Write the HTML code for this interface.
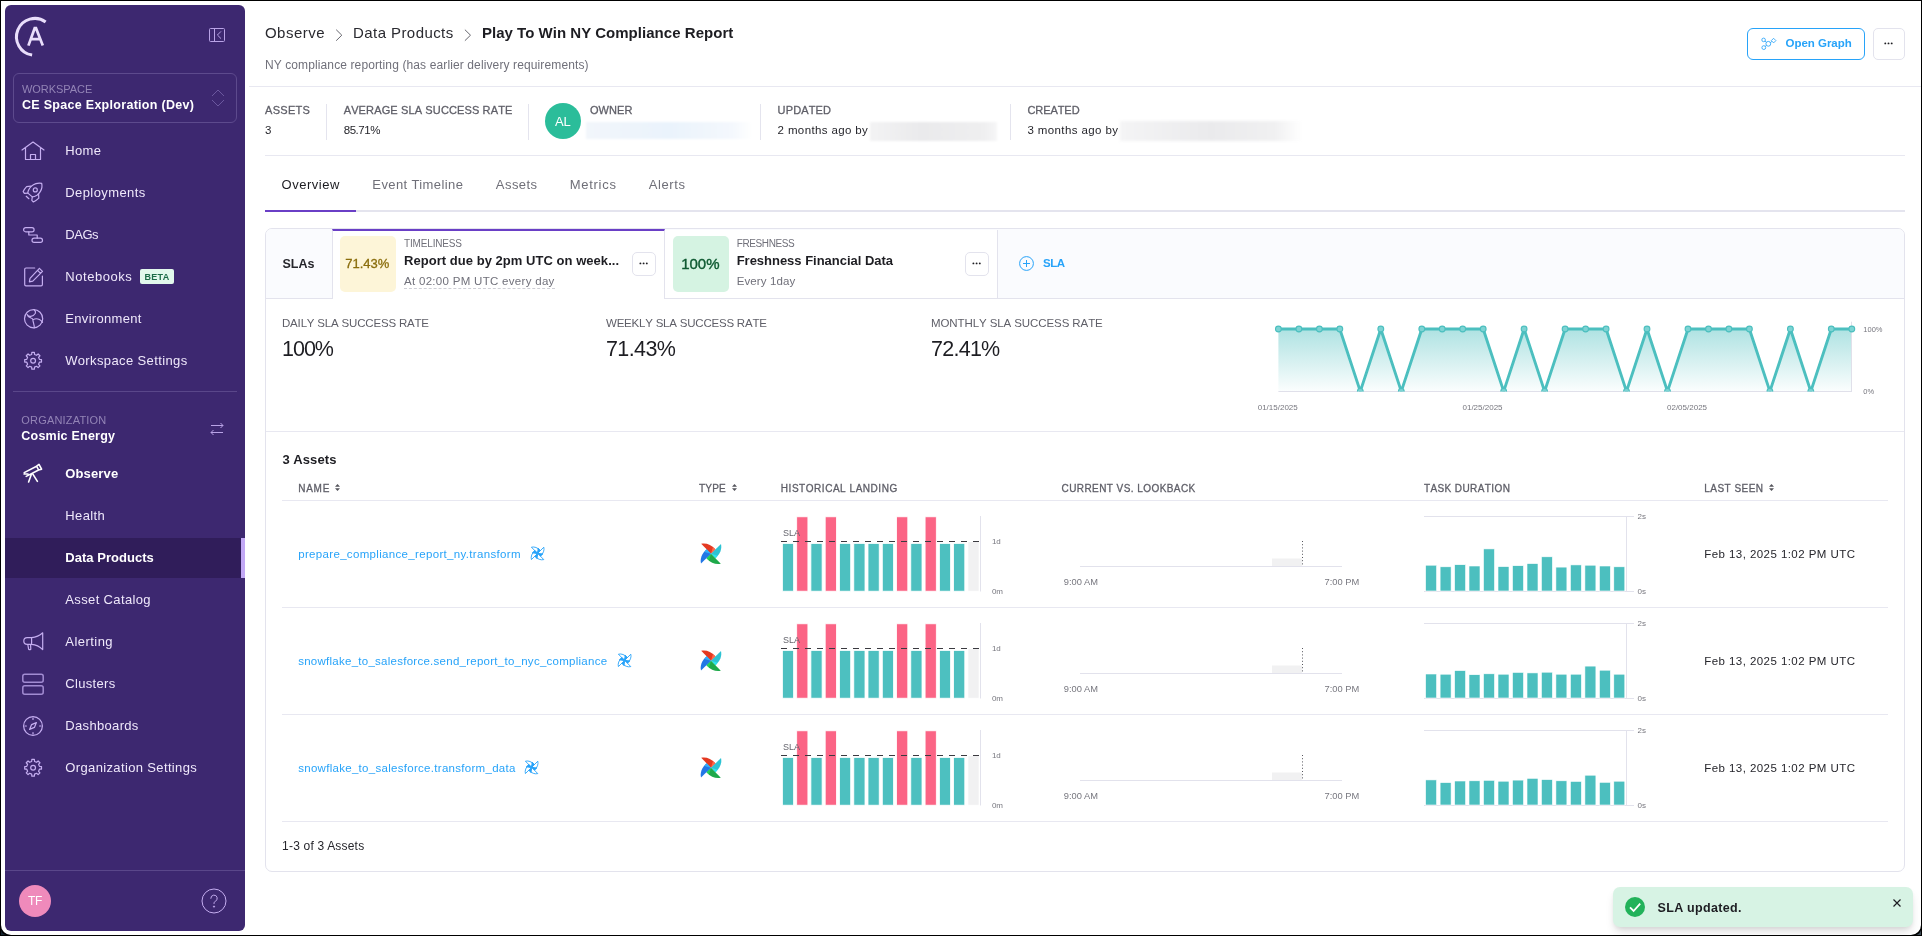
<!DOCTYPE html>
<html><head><meta charset="utf-8"><title>Data Product</title>
<style>
*{box-sizing:border-box;margin:0;padding:0}
html,body{width:1922px;height:936px;overflow:hidden;background:#fff}
body{font-family:"Liberation Sans",sans-serif;color:#1d1d22;position:relative}
#pg{position:absolute;left:0;top:0;width:1922px;height:936px;overflow:hidden;background:#fff;transform:translateZ(0);will-change:transform}
#frame{position:absolute;left:1px;top:1px;width:1920px;height:934px;border-radius:0 0 10px 10px;box-shadow:0 0 0 12px #000;pointer-events:none;z-index:50}
.a{position:absolute;white-space:nowrap;line-height:1}
.b{font-weight:bold}
#sb{position:absolute;left:5px;top:5px;width:240px;height:926px;background:#3d2870;border-radius:6px}
.nav{color:#efe8fb}
.ico{position:absolute;fill:none;stroke:#c5aef0;stroke-width:1.2;stroke-linecap:round;stroke-linejoin:round;overflow:visible}
.lbl{color:#5f5f68;-webkit-text-stroke:.3px #5f5f68;font-kerning:none}
.lb2{color:#5f5f68;font-kerning:none}
.val{color:#26262c}
.vs{position:absolute;width:1px;background:#e4e4ee}
.hl{position:absolute;height:1px;background:#e8e8f1}
.th{color:#5f5f68;-webkit-text-stroke:.3px #5f5f68;font-kerning:none}
.lnk{color:#27a3f9}
.tab{color:#6f6f78}
.big{color:#1d1d22}
.ax{color:#77777f}
.g{color:#70707a}
.dots{position:absolute;border:1px solid #e3e3ed;border-radius:5px;background:#fff}
.dots i{position:absolute;width:1.9px;height:1.9px;background:#222;border-radius:50%;top:50%;margin-top:-1.6px}
</style></head><body>
<div id="pg">
<div id="sb"></div>
<svg class="a" style="left:10px;top:12px" width="50" height="50" viewBox="0 0 50 50" fill="none" stroke="#e9defb" stroke-width="3"><path d="M35.66 9.93 A18.4 18.4 0 1 0 22.12 43.04"/><path d="M18.4 33.6 L24.7 16.2 H26 L32.8 33.6 M21 27.2 H30.4" stroke-width="2.7" stroke-linejoin="miter"/></svg>
<svg class="a" style="left:209px;top:28px" width="16" height="14" viewBox="0 0 16 14" fill="none" stroke="#b9a3e6" stroke-width="1"><rect x=".5" y=".5" width="15" height="13" rx="1"/><path d="M5.5 .5V13.5M12 3.4L8.4 7L12 10.6"/></svg>
<div class="a" style="left:13px;top:73px;width:224px;height:50px;border:1px solid #5d4a8d;border-radius:6px"></div>
<div class="a" id="t_ws" style="left:22px;top:84px;font-size:11px;color:#9384b6;letter-spacing:-0.05px;">WORKSPACE</div>
<div class="a b" id="t_wsn" style="left:22px;top:99px;font-size:12.5px;color:#fff;letter-spacing:0.29px;">CE Space Exploration (Dev)</div>
<svg class="a" style="left:211px;top:89px" width="14" height="18" viewBox="0 0 14 18" fill="none" stroke="#6b589f" stroke-width="1"><path d="M1 7L7 1L13 7M1 11L7 17L13 11"/></svg>
<div class="a" style="left:5px;top:538px;width:240px;height:40px;background:#301d5a"></div><div class="a" style="left:241px;top:538px;width:4px;height:40px;background:#c2a8f5"></div>
<div class="a nav" id="n0" style="left:65.3px;top:144px;font-size:13px;letter-spacing:0.3px;">Home</div>
<div class="a nav" id="n1" style="left:65.3px;top:186px;font-size:13px;letter-spacing:0.41px;">Deployments</div>
<div class="a nav" id="n2" style="left:65.3px;top:228px;font-size:13px;letter-spacing:-0.46px;">DAGs</div>
<div class="a nav" id="n3" style="left:65.3px;top:270px;font-size:13px;letter-spacing:0.55px;">Notebooks</div>
<div class="a nav" id="n4" style="left:65.3px;top:312px;font-size:13px;letter-spacing:0.31px;">Environment</div>
<div class="a nav" id="n5" style="left:65.3px;top:354px;font-size:13px;letter-spacing:0.38px;">Workspace Settings</div>
<div class="a nav b" id="n6" style="left:65.3px;top:467px;font-size:13px;color:#fff;letter-spacing:0.13px;">Observe</div>
<div class="a nav" id="n7" style="left:65.3px;top:509px;font-size:13px;letter-spacing:0.36px;">Health</div>
<div class="a nav b" id="n8" style="left:65.3px;top:551px;font-size:13px;color:#fff;letter-spacing:0.03px;">Data Products</div>
<div class="a nav" id="n9" style="left:65.3px;top:593px;font-size:13px;letter-spacing:0.36px;">Asset Catalog</div>
<div class="a nav" id="n10" style="left:65.3px;top:635px;font-size:13px;letter-spacing:0.46px;">Alerting</div>
<div class="a nav" id="n11" style="left:65.3px;top:677px;font-size:13px;letter-spacing:0.33px;">Clusters</div>
<div class="a nav" id="n12" style="left:65.3px;top:719px;font-size:13px;letter-spacing:0.33px;">Dashboards</div>
<div class="a nav" id="n13" style="left:65.3px;top:761px;font-size:13px;letter-spacing:0.36px;">Organization Settings</div>
<div class="a" style="left:140px;top:269px;width:34px;height:15px;background:#e2f8ec;border-radius:2px"></div>
<div class="a b" id="beta" style="left:144.5px;top:273px;font-size:9px;color:#1d6b48;letter-spacing:.3px;">BETA</div>
<div class="a" style="left:13px;top:391px;width:224px;height:1px;background:#5a478a"></div>
<div class="a" style="left:5px;top:870px;width:240px;height:1px;background:#5a478a"></div>
<div class="a" id="t_org" style="left:21.3px;top:415px;font-size:11px;color:#9384b6;letter-spacing:0.19px;">ORGANIZATION</div>
<div class="a b" id="t_orgn" style="left:21.3px;top:430px;font-size:12.5px;color:#fff;letter-spacing:0.22px;">Cosmic Energy</div>
<svg class="a" style="left:210px;top:422px" width="14" height="14" viewBox="0 0 14 14" fill="none" stroke="#b9a3e6" stroke-width="1"><path d="M1 3.5H13M10.5 1L13 3.5L10.5 6M13 10.5H1M3.5 8L1 10.5L3.5 13"/></svg>
<div class="a" style="left:19px;top:885px;width:32px;height:32px;border-radius:16px;background:#ef8abb"></div>
<div class="a" id="tf" style="left:28px;top:895px;font-size:12px;color:#fff;letter-spacing:-.3px;">TF</div>
<svg class="a" style="left:201px;top:888px" width="26" height="26" viewBox="0 0 26 26" fill="none" stroke="#c5aef0" stroke-width="1"><circle cx="13" cy="13" r="12"/><path d="M9.8 10.3a3.2 3.2 0 1 1 4.6 2.9c-.9.5-1.4 1.1-1.4 2.3" stroke-linecap="round"/><circle cx="13" cy="18.6" r=".6" fill="#c5aef0"/></svg>
<svg class="ico" style="left:21px;top:141px;" width="24" height="20" viewBox="0 0 24 20"><path d="M1 9L12 1L23 9M4.5 7V18.5H19.5V7M9.5 18.5V13.5H14.5V18.5"/></svg>
<svg class="ico" style="left:18px;top:178px;" width="30" height="30" viewBox="0 0 30 30"><path d="M23.7 5.3C21.8 5 19.6 5.1 17.9 5.6C15.8 6.2 14.4 7.2 13.2 8.4C11.8 9.8 10.9 11.4 10.4 12.6C10 13.6 9.8 14.4 9.9 15.1L14.3 18.9C15.4 18.9 17.4 18.2 19 17.2C20.4 16.2 21.6 14.8 22.4 13.4C23.2 12 23.7 10.6 23.9 9.4C24.1 8 24 6.6 23.7 5.3Z"/><circle cx="17.3" cy="11.9" r="2"/><path d="M13 8.1L8.6 8.6C7.2 10 6 11.8 5.2 13.6L6.4 15.4L9.9 15.1M20.6 16L20.8 20.2C19.2 21.8 17.4 23 15.4 24L13.8 22.4L14.3 18.9M8.2 18.3L10.9 20.7"/></svg>
<svg class="ico" style="left:23px;top:227px;" width="20" height="16" viewBox="0 0 20 16"><rect x=".6" y=".6" width="10.5" height="4.2" rx="2.1"/><rect x="9" y="11.2" width="10.5" height="4.2" rx="2.1"/><path d="M5.8 4.8V8H14.2V11.2"/></svg>
<svg class="ico" style="left:23.5px;top:267px;" width="20" height="20" viewBox="0 0 20 20"><path d="M10.7 1H2A1.3 1.3 0 0 0 .7 2.3V17.5A1.3 1.3 0 0 0 2 18.8H17.1A1.3 1.3 0 0 0 18.4 17.5V9"/><path d="M15.4 1.3L18.5 4.4L8.8 14.1L5.4 14.8L6 11.3L15.4 1.3ZM13.6 3.3L16.6 6.3"/></svg>
<svg class="ico" style="left:24px;top:309px;" width="19" height="20" viewBox="0 0 19 20"><circle cx="9.6" cy="9.7" r="9.1"/><path d="M3.2 5.6C4.6 8 8.6 8.6 11.4 4.2C11.8 3 11.2 1.6 10.2 .7M3.2 5.6C3.6 7.6 5.4 8.4 7 9C8.2 9.4 8.9 10 8.9 10.7C8.9 13.5 10.6 15.5 10.2 18.8M8.9 10.7C11 9.6 14 9.8 15.4 10.6C16.8 11.4 17.8 12.4 18.5 13.3"/></svg>
<svg class="ico" style="left:24px;top:351px;" width="19" height="19" viewBox="0 0 19 19"><path d="M7.83 1.40L10.37 1.40L10.52 3.46L12.58 4.31L14.14 2.96L15.94 4.76L14.59 6.32L15.44 8.38L17.50 8.53L17.50 11.07L15.44 11.22L14.59 13.28L15.94 14.84L14.14 16.64L12.58 15.29L10.52 16.14L10.37 18.20L7.83 18.20L7.68 16.14L5.62 15.29L4.06 16.64L2.26 14.84L3.61 13.28L2.76 11.22L0.70 11.07L0.70 8.53L2.76 8.38L3.61 6.32L2.26 4.76L4.06 2.96L5.62 4.31L7.68 3.46Z"/><circle cx="9.1" cy="9.8" r="2.4"/></svg>
<svg class="ico" style="left:24px;top:758px;" width="19" height="19" viewBox="0 0 19 19"><path d="M7.83 1.40L10.37 1.40L10.52 3.46L12.58 4.31L14.14 2.96L15.94 4.76L14.59 6.32L15.44 8.38L17.50 8.53L17.50 11.07L15.44 11.22L14.59 13.28L15.94 14.84L14.14 16.64L12.58 15.29L10.52 16.14L10.37 18.20L7.83 18.20L7.68 16.14L5.62 15.29L4.06 16.64L2.26 14.84L3.61 13.28L2.76 11.22L0.70 11.07L0.70 8.53L2.76 8.38L3.61 6.32L2.26 4.76L4.06 2.96L5.62 4.31L7.68 3.46Z"/><circle cx="9.1" cy="9.8" r="2.4"/></svg>
<svg class="ico" style="left:23px;top:463px;stroke:#fff;stroke-width:1.6" width="20" height="20" viewBox="0 0 20 20"><path d="M1.2 9.6L13.6 3.2L15.6 7L3.2 13.4M13.6 3.2L16 1.4L18.6 6.2L15.6 7M8.6 10.8L5.6 19M9.4 10.4L14.4 18.4M1 11H5"/></svg>
<svg class="ico" style="left:23px;top:632px;" width="21" height="19" viewBox="0 0 21 19"><path d="M19.7 .8V17.6C16.8 14.6 12.6 12.6 8.6 12.4H4.2A3.4 3.4 0 0 1 4.2 5.6H8.6C12.6 5.4 16.8 3.6 19.7 .8ZM8.6 5.6V12.4M4.8 12.4L5.6 17.2Q6.8 18 7.8 17.2L7.6 12.4"/></svg>
<svg class="ico" style="left:22px;top:673px;stroke-width:1.5;stroke:#a28cd2" width="22" height="22" viewBox="0 0 22 22"><rect x=".8" y="1.2" width="20.4" height="8" rx="2"/><rect x=".8" y="12.8" width="20.4" height="8.4" rx="2"/></svg>
<svg class="ico" style="left:23px;top:716px;" width="20" height="20" viewBox="0 0 20 20"><circle cx="10" cy="10" r="9.4"/><path d="M13.4 6.6L11.4 11.4L6.6 13.4L8.6 8.6L13.4 6.6ZM10 2V3.4M10 16.6V18M2 10H3.4M16.6 10H18" /></svg>
<div class="a" id="bc1" style="left:264.9px;top:25px;font-size:15px;color:#2a2a30;letter-spacing:0.52px;">Observe</div>
<svg class="a" style="left:0;top:0" width="500" height="60" viewBox="0 0 500 60" fill="none" stroke="#66666e" stroke-width="1"><path d="M336.2 29.7l5.6 5.5l-5.6 5.5"/></svg>
<div class="a" id="bc2" style="left:353px;top:25px;font-size:15px;color:#2a2a30;letter-spacing:0.43px;">Data Products</div>
<svg class="a" style="left:0;top:0" width="500" height="60" viewBox="0 0 500 60" fill="none" stroke="#66666e" stroke-width="1"><path d="M464.9 29.7l5.6 5.5l-5.6 5.5"/></svg>
<div class="a b" id="bc3" style="left:481.9px;top:25px;font-size:15px;color:#1d1d22;letter-spacing:0.04px;">Play To Win NY Compliance Report</div>
<div class="a g" id="sub" style="left:265px;top:59px;font-size:12px;letter-spacing:0.12px;">NY compliance reporting (has earlier delivery requirements)</div>
<div class="a" style="left:1747px;top:28px;width:118px;height:32px;border:1px solid #27a3f9;border-radius:6px"></div>
<svg class="a" style="left:1760px;top:36px" width="18" height="16" viewBox="0 0 18 16" fill="none" stroke="#27a3f9" stroke-width=".85"><circle cx="3.6" cy="3.9" r="1.8"/><circle cx="8.3" cy="7.8" r="2.4"/><circle cx="3.8" cy="11.6" r="1.9"/><path d="M13.6 2.3L15.9 4.6L13.6 6.9L11.3 4.6ZM5 5L6.4 6.2M6.4 9.5L5.2 10.3M10.4 6.6L11.9 5.4"/></svg>
<div class="a b" id="og" style="left:1785.6px;top:38px;font-size:11.5px;color:#27a3f9;letter-spacing:-0.04px;">Open Graph</div>
<div class="dots" style="left:1873px;top:28px;width:32px;height:32px"></div><svg class="a" style="left:1873px;top:28px" width="32" height="32" viewBox="0 0 32 32" fill="#1d1d22"><circle cx="12.3" cy="15.4" r=".95"/><circle cx="15.5" cy="15.4" r=".95"/><circle cx="18.7" cy="15.4" r=".95"/></svg>
<div class="hl" style="left:249px;top:86px;width:1672px"></div>
<div class="a lbl" id="s1" style="left:265px;top:105px;font-size:11px;letter-spacing:0.3px;">ASSETS</div>
<div class="a val" id="s1v" style="left:265px;top:125px;font-size:11.5px;">3</div>
<div class="vs" style="left:326px;top:104px;height:36px"></div>
<div class="a lbl" id="s2" style="left:343.7px;top:105px;font-size:11px;letter-spacing:0.13px;">AVERAGE SLA SUCCESS RATE</div>
<div class="a val" id="s2v" style="left:343.7px;top:125px;font-size:11.5px;letter-spacing:-0.44px;">85.71%</div>
<div class="vs" style="left:528px;top:104px;height:36px"></div>
<div class="a" style="left:544.6px;top:103px;width:36.2px;height:36.2px;border-radius:19px;background:#2bbd9a"></div>
<div class="a" id="al" style="left:554.9px;top:115px;font-size:13px;color:#fff;">AL</div>
<div class="a lbl" id="s3" style="left:589.9px;top:105px;font-size:11px;letter-spacing:0.08px;">OWNER</div>
<div class="a" style="left:586px;top:122px;width:166px;height:17px;background:linear-gradient(90deg,#f2f6fb,#eaf3fc 50%,#f4f8fd 88%,#fff);filter:blur(1px)"></div>
<div class="vs" style="left:760px;top:104px;height:36px"></div>
<div class="a lbl" id="s4" style="left:777.6px;top:105px;font-size:11px;letter-spacing:0.14px;">UPDATED</div>
<div class="a val" id="s4v" style="left:777.6px;top:125px;font-size:11.5px;letter-spacing:0.37px;">2 months ago by</div>
<div class="a" style="left:870px;top:122px;width:127px;height:19px;background:linear-gradient(90deg,#f3f3f4,#eaeaec 40%,#efeff0 90%,#f6f6f7);filter:blur(1px)"></div>
<div class="vs" style="left:1010px;top:104px;height:36px"></div>
<div class="a lbl" id="s5" style="left:1027.4px;top:105px;font-size:11px;letter-spacing:-0.06px;">CREATED</div>
<div class="a val" id="s5v" style="left:1027.4px;top:125px;font-size:11.5px;letter-spacing:0.4px;">3 months ago by</div>
<div class="a" style="left:1120px;top:121px;width:182px;height:20px;background:linear-gradient(90deg,#f4f4f5,#eaeaec 50%,#f0f0f1 85%,#fff);filter:blur(1.5px)"></div>
<div class="hl" style="left:265px;top:155px;width:1640px"></div>
<div class="a tab" id="tb1" style="left:281.5px;top:178px;font-size:13px;color:#1d1d22;letter-spacing:0.53px;">Overview</div>
<div class="a tab" id="tb2" style="left:372.3px;top:178px;font-size:13px;letter-spacing:0.41px;">Event Timeline</div>
<div class="a tab" id="tb3" style="left:495.8px;top:178px;font-size:13px;letter-spacing:0.46px;">Assets</div>
<div class="a tab" id="tb4" style="left:569.7px;top:178px;font-size:13px;letter-spacing:0.72px;">Metrics</div>
<div class="a tab" id="tb5" style="left:648.7px;top:178px;font-size:13px;letter-spacing:0.61px;">Alerts</div>
<div class="a" style="left:265px;top:210px;width:1640px;height:2px;background:#e4e4ee"></div>
<div class="a" style="left:265px;top:210px;width:91px;height:2px;background:#6a3fc6"></div>
<div class="a" style="left:265px;top:228px;width:1640px;height:644px;border:1px solid #e3e3ed;border-radius:7px;background:#fff;overflow:hidden"><div style="position:absolute;left:0;top:0;width:1640px;height:70px;background:#fafbfe;border-bottom:1px solid #e3e3ed"></div></div>
<div class="a b" id="slas" style="left:282.4px;top:258px;font-size:12.5px;color:#26262c;letter-spacing:0.01px;">SLAs</div>
<div class="a" style="left:332px;top:229px;width:333px;height:70px;background:#fff;border-left:1px solid #e3e3ed;border-right:1px solid #e3e3ed;border-top:2px solid #6a3fc6"></div>
<div class="a" style="left:340px;top:236px;width:56px;height:56px;border-radius:5px;background:#fdf5d8"></div>
<div class="a" id="yb" style="left:345.2px;top:257px;font-size:13px;color:#8a6d0c;-webkit-text-stroke:.3px #8a6d0c;">71.43%</div>
<div class="a g" id="tl" style="left:404px;top:239px;font-size:10px;letter-spacing:-0.16px;">TIMELINESS</div>
<div class="a b" id="tl2" style="left:404px;top:254px;font-size:13px;color:#1d1d22;letter-spacing:0.04px;">Report due by 2pm UTC on week...</div>
<div class="a g" id="tl3" style="left:404px;top:276px;font-size:11.5px;border-bottom:1px dashed #cfcfd6;padding-bottom:0;letter-spacing:0.3px;">At 02:00 PM UTC every day</div>
<div class="dots" style="left:632px;top:252px;width:24px;height:24px"></div><svg class="a" style="left:632px;top:252px" width="24" height="24" viewBox="0 0 24 24" fill="#1d1d22"><circle cx="8.4" cy="11.4" r=".95"/><circle cx="11.6" cy="11.4" r=".95"/><circle cx="14.8" cy="11.4" r=".95"/></svg>
<div class="a" style="left:665px;top:230px;width:333px;height:69px;background:#fff;border-right:1px solid #e3e3ed;border-bottom:1px solid #e3e3ed"></div>
<div class="a" style="left:673px;top:236px;width:56px;height:56px;border-radius:5px;background:#d5f3e2"></div>
<div class="a" id="gb" style="left:681.2px;top:256px;font-size:15px;color:#0f5a32;-webkit-text-stroke:.4px #0f5a32;">100%</div>
<div class="a g" id="fr" style="left:736.7px;top:239px;font-size:10px;letter-spacing:-0.39px;">FRESHNESS</div>
<div class="a b" id="fr2" style="left:736.7px;top:254px;font-size:13px;color:#1d1d22;letter-spacing:-0.02px;">Freshness Financial Data</div>
<div class="a g" id="fr3" style="left:736.7px;top:276px;font-size:11.5px;letter-spacing:0.12px;">Every 1day</div>
<div class="dots" style="left:965px;top:252px;width:24px;height:24px"></div><svg class="a" style="left:965px;top:252px" width="24" height="24" viewBox="0 0 24 24" fill="#1d1d22"><circle cx="8.4" cy="11.4" r=".95"/><circle cx="11.6" cy="11.4" r=".95"/><circle cx="14.8" cy="11.4" r=".95"/></svg>
<svg class="a" style="left:1018px;top:255px" width="17" height="17" viewBox="0 0 17 17" fill="none" stroke="#27a3f9" stroke-width="1"><circle cx="8.5" cy="8.5" r="6.9"/><path d="M8.5 5V12M5 8.5H12"/></svg>
<div class="a b" id="asla" style="left:1043px;top:258px;font-size:11.5px;color:#27a3f9;letter-spacing:-0.5px;">SLA</div>
<div class="a lb2" id="r1" style="left:282px;top:318px;font-size:11.5px;letter-spacing:-0.18px;">DAILY SLA SUCCESS RATE</div>
<div class="a big" id="r1v" style="left:282px;top:339px;font-size:21.5px;letter-spacing:-1.0px;">100%</div>
<div class="a lb2" id="r2" style="left:606px;top:318px;font-size:11.5px;letter-spacing:-0.21px;">WEEKLY SLA SUCCESS RATE</div>
<div class="a big" id="r2v" style="left:606px;top:339px;font-size:21.5px;letter-spacing:-0.59px;">71.43%</div>
<div class="a lb2" id="r3" style="left:931px;top:318px;font-size:11.5px;letter-spacing:-0.09px;">MONTHLY SLA SUCCESS RATE</div>
<div class="a big" id="r3v" style="left:931px;top:339px;font-size:21.5px;letter-spacing:-0.74px;">72.41%</div>
<svg class="a" style="left:0;top:0" width="1922" height="936" viewBox="0 0 1922 936">
<defs><linearGradient id="lg" x1="0" y1="0" x2="0" y2="1"><stop offset="0" stop-color="#4cbfbf" stop-opacity=".45"/><stop offset=".35" stop-color="#4cbfbf" stop-opacity=".3"/><stop offset="1" stop-color="#4cbfbf" stop-opacity=".02"/></linearGradient><clipPath id="cp"><rect x="1270" y="320" width="590" height="71.4"/></clipPath></defs>
<polygon points="1278.4,391.4 1278.4,329.0 1298.9,329.0 1319.4,329.0 1339.8,329.0 1360.3,391.4 1380.8,329.0 1401.3,391.4 1421.8,329.0 1442.2,329.0 1462.7,329.0 1483.2,329.0 1503.7,391.4 1524.1,329.0 1544.6,391.4 1565.1,329.0 1585.6,329.0 1606.1,329.0 1626.5,391.4 1647.0,329.0 1667.5,391.4 1688.0,329.0 1708.5,329.0 1728.9,329.0 1749.4,329.0 1769.9,391.4 1790.4,329.0 1810.8,391.4 1831.3,329.0 1851.8,329.0 1851.8,391.4" fill="url(#lg)"/>
<path d="M1278.4 391.5H1852M1851.5 321.7V391.5" fill="none" stroke="#e0e0ea" stroke-width="1"/>
<g clip-path="url(#cp)"><polyline points="1278.4,329.0 1298.9,329.0 1319.4,329.0 1339.8,329.0 1360.3,391.4 1380.8,329.0 1401.3,391.4 1421.8,329.0 1442.2,329.0 1462.7,329.0 1483.2,329.0 1503.7,391.4 1524.1,329.0 1544.6,391.4 1565.1,329.0 1585.6,329.0 1606.1,329.0 1626.5,391.4 1647.0,329.0 1667.5,391.4 1688.0,329.0 1708.5,329.0 1728.9,329.0 1749.4,329.0 1769.9,391.4 1790.4,329.0 1810.8,391.4 1831.3,329.0 1851.8,329.0" fill="none" stroke="#4cbfbf" stroke-width="2.9" stroke-linejoin="round"/>
<circle cx="1278.4" cy="329.0" r="2.9" fill="#7dd3d3" stroke="#4cbfbf" stroke-width="1.1"/><circle cx="1298.9" cy="329.0" r="2.9" fill="#7dd3d3" stroke="#4cbfbf" stroke-width="1.1"/><circle cx="1319.4" cy="329.0" r="2.9" fill="#7dd3d3" stroke="#4cbfbf" stroke-width="1.1"/><circle cx="1339.8" cy="329.0" r="2.9" fill="#7dd3d3" stroke="#4cbfbf" stroke-width="1.1"/><circle cx="1360.3" cy="391.4" r="2.9" fill="#7dd3d3" stroke="#4cbfbf" stroke-width="1.1"/><circle cx="1380.8" cy="329.0" r="2.9" fill="#7dd3d3" stroke="#4cbfbf" stroke-width="1.1"/><circle cx="1401.3" cy="391.4" r="2.9" fill="#7dd3d3" stroke="#4cbfbf" stroke-width="1.1"/><circle cx="1421.8" cy="329.0" r="2.9" fill="#7dd3d3" stroke="#4cbfbf" stroke-width="1.1"/><circle cx="1442.2" cy="329.0" r="2.9" fill="#7dd3d3" stroke="#4cbfbf" stroke-width="1.1"/><circle cx="1462.7" cy="329.0" r="2.9" fill="#7dd3d3" stroke="#4cbfbf" stroke-width="1.1"/><circle cx="1483.2" cy="329.0" r="2.9" fill="#7dd3d3" stroke="#4cbfbf" stroke-width="1.1"/><circle cx="1503.7" cy="391.4" r="2.9" fill="#7dd3d3" stroke="#4cbfbf" stroke-width="1.1"/><circle cx="1524.1" cy="329.0" r="2.9" fill="#7dd3d3" stroke="#4cbfbf" stroke-width="1.1"/><circle cx="1544.6" cy="391.4" r="2.9" fill="#7dd3d3" stroke="#4cbfbf" stroke-width="1.1"/><circle cx="1565.1" cy="329.0" r="2.9" fill="#7dd3d3" stroke="#4cbfbf" stroke-width="1.1"/><circle cx="1585.6" cy="329.0" r="2.9" fill="#7dd3d3" stroke="#4cbfbf" stroke-width="1.1"/><circle cx="1606.1" cy="329.0" r="2.9" fill="#7dd3d3" stroke="#4cbfbf" stroke-width="1.1"/><circle cx="1626.5" cy="391.4" r="2.9" fill="#7dd3d3" stroke="#4cbfbf" stroke-width="1.1"/><circle cx="1647.0" cy="329.0" r="2.9" fill="#7dd3d3" stroke="#4cbfbf" stroke-width="1.1"/><circle cx="1667.5" cy="391.4" r="2.9" fill="#7dd3d3" stroke="#4cbfbf" stroke-width="1.1"/><circle cx="1688.0" cy="329.0" r="2.9" fill="#7dd3d3" stroke="#4cbfbf" stroke-width="1.1"/><circle cx="1708.5" cy="329.0" r="2.9" fill="#7dd3d3" stroke="#4cbfbf" stroke-width="1.1"/><circle cx="1728.9" cy="329.0" r="2.9" fill="#7dd3d3" stroke="#4cbfbf" stroke-width="1.1"/><circle cx="1749.4" cy="329.0" r="2.9" fill="#7dd3d3" stroke="#4cbfbf" stroke-width="1.1"/><circle cx="1769.9" cy="391.4" r="2.9" fill="#7dd3d3" stroke="#4cbfbf" stroke-width="1.1"/><circle cx="1790.4" cy="329.0" r="2.9" fill="#7dd3d3" stroke="#4cbfbf" stroke-width="1.1"/><circle cx="1810.8" cy="391.4" r="2.9" fill="#7dd3d3" stroke="#4cbfbf" stroke-width="1.1"/><circle cx="1831.3" cy="329.0" r="2.9" fill="#7dd3d3" stroke="#4cbfbf" stroke-width="1.1"/><circle cx="1851.8" cy="329.0" r="2.9" fill="#7dd3d3" stroke="#4cbfbf" stroke-width="1.1"/></g>
</svg>
<div class="a ax" id="lc1" style="left:1863.3px;top:326px;font-size:7.5px;">100%</div>
<div class="a ax" id="lc2" style="left:1863.3px;top:388px;font-size:7.5px;">0%</div>
<div class="a ax" id="lx1" style="left:1257.7px;top:404px;font-size:8px;">01/15/2025</div>
<div class="a ax" id="lx2" style="left:1462.5px;top:404px;font-size:8px;">01/25/2025</div>
<div class="a ax" id="lx3" style="left:1667px;top:404px;font-size:8px;">02/05/2025</div>
<div class="hl" style="left:266px;top:431px;width:1638px"></div>
<div class="a b" id="as" style="left:282.5px;top:453px;font-size:13px;color:#1d1d22;letter-spacing:0.14px;">3 Assets</div>
<div class="a th" id="h1" style="left:298.2px;top:484px;font-size:10px;letter-spacing:0.74px;">NAME</div>
<svg class="a" style="left:335px;top:483.6px" width="5" height="7" viewBox="0 0 5 7" fill="#55555c"><path d="M2.5 0L5 2.7H0ZM2.5 7L5 4.3H0Z"/></svg>
<div class="a th" id="h2" style="left:698.9px;top:484px;font-size:10px;letter-spacing:0.26px;">TYPE</div>
<svg class="a" style="left:732px;top:483.6px" width="5" height="7" viewBox="0 0 5 7" fill="#55555c"><path d="M2.5 0L5 2.7H0ZM2.5 7L5 4.3H0Z"/></svg>
<div class="a th" id="h3" style="left:780.8px;top:484px;font-size:10px;letter-spacing:0.54px;">HISTORICAL LANDING</div>
<div class="a th" id="h4" style="left:1061.5px;top:484px;font-size:10px;letter-spacing:0.43px;">CURRENT VS. LOOKBACK</div>
<div class="a th" id="h5" style="left:1423.9px;top:484px;font-size:10px;letter-spacing:0.41px;">TASK DURATION</div>
<div class="a th" id="h6" style="left:1704.2px;top:484px;font-size:10px;letter-spacing:0.48px;">LAST SEEN</div>
<svg class="a" style="left:1768.5px;top:483.6px" width="5" height="7" viewBox="0 0 5 7" fill="#55555c"><path d="M2.5 0L5 2.7H0ZM2.5 7L5 4.3H0Z"/></svg>
<div class="hl" style="left:282px;top:500px;width:1606px"></div>
<div class="hl" style="left:282px;top:607px;width:1606px"></div>
<div class="hl" style="left:282px;top:714px;width:1606px"></div>
<div class="hl" style="left:282px;top:821px;width:1606px"></div>
<svg class="a" style="left:0;top:0" width="1922" height="936" viewBox="0 0 1922 936">
<g transform="translate(711 553.8)"><g transform="rotate(0)"><path d="M-9.8 -10C-5.2 -11.1 0 -9.4 4.5 -4.4L0 0Z" fill="#e43921"/><path d="M4.5 -4.4L0 0L1.9 -6.5C2.9 -5.9 3.8 -5.2 4.5 -4.4Z" fill="#ff6a4b"/></g><g transform="rotate(90)"><path d="M-9.8 -10C-5.2 -11.1 0 -9.4 4.5 -4.4L0 0Z" fill="#2dc3d3"/><path d="M4.5 -4.4L0 0L1.9 -6.5C2.9 -5.9 3.8 -5.2 4.5 -4.4Z" fill="#2de4ef"/></g><g transform="rotate(180)"><path d="M-9.8 -10C-5.2 -11.1 0 -9.4 4.5 -4.4L0 0Z" fill="#1ea94a"/><path d="M4.5 -4.4L0 0L1.9 -6.5C2.9 -5.9 3.8 -5.2 4.5 -4.4Z" fill="#21d65b"/></g><g transform="rotate(270)"><path d="M-9.8 -10C-5.2 -11.1 0 -9.4 4.5 -4.4L0 0Z" fill="#2277e6"/><path d="M4.5 -4.4L0 0L1.9 -6.5C2.9 -5.9 3.8 -5.2 4.5 -4.4Z" fill="#34b0f6"/></g></g>
<g transform="translate(537.6 553.4) scale(.62)" stroke="#27a3f9" stroke-width="1.45" stroke-linejoin="round"><g transform="rotate(0)"><path d="M-10 -10C-5.2 -11.2 0 -9.4 4.5 -4.4L0 0Z" fill="#fff"/><path d="M4.5 -4.4L0 0L-.5 -.5C.4 -3 .6 -5.6 .8 -8.2C2.2 -7.2 3.4 -5.8 4.5 -4.4Z" fill="#27a3f9"/></g><g transform="rotate(90)"><path d="M-10 -10C-5.2 -11.2 0 -9.4 4.5 -4.4L0 0Z" fill="#fff"/><path d="M4.5 -4.4L0 0L-.5 -.5C.4 -3 .6 -5.6 .8 -8.2C2.2 -7.2 3.4 -5.8 4.5 -4.4Z" fill="#27a3f9"/></g><g transform="rotate(180)"><path d="M-10 -10C-5.2 -11.2 0 -9.4 4.5 -4.4L0 0Z" fill="#fff"/><path d="M4.5 -4.4L0 0L-.5 -.5C.4 -3 .6 -5.6 .8 -8.2C2.2 -7.2 3.4 -5.8 4.5 -4.4Z" fill="#27a3f9"/></g><g transform="rotate(270)"><path d="M-10 -10C-5.2 -11.2 0 -9.4 4.5 -4.4L0 0Z" fill="#fff"/><path d="M4.5 -4.4L0 0L-.5 -.5C.4 -3 .6 -5.6 .8 -8.2C2.2 -7.2 3.4 -5.8 4.5 -4.4Z" fill="#27a3f9"/></g></g>
<rect x="782.4" y="543.4" width="11.2" height="47.8" fill="#4dc0c0" stroke="#fff" stroke-width=".8"/><rect x="796.7" y="516.8" width="11.2" height="74.4" fill="#fb6485" stroke="#fff" stroke-width=".8"/><rect x="810.9" y="543.4" width="11.2" height="47.8" fill="#4dc0c0" stroke="#fff" stroke-width=".8"/><rect x="825.2" y="516.8" width="11.2" height="74.4" fill="#fb6485" stroke="#fff" stroke-width=".8"/><rect x="839.5" y="543.4" width="11.2" height="47.8" fill="#4dc0c0" stroke="#fff" stroke-width=".8"/><rect x="853.8" y="543.4" width="11.2" height="47.8" fill="#4dc0c0" stroke="#fff" stroke-width=".8"/><rect x="868.0" y="543.4" width="11.2" height="47.8" fill="#4dc0c0" stroke="#fff" stroke-width=".8"/><rect x="882.3" y="543.4" width="11.2" height="47.8" fill="#4dc0c0" stroke="#fff" stroke-width=".8"/><rect x="896.6" y="516.8" width="11.2" height="74.4" fill="#fb6485" stroke="#fff" stroke-width=".8"/><rect x="910.8" y="543.4" width="11.2" height="47.8" fill="#4dc0c0" stroke="#fff" stroke-width=".8"/><rect x="925.1" y="516.8" width="11.2" height="74.4" fill="#fb6485" stroke="#fff" stroke-width=".8"/><rect x="939.4" y="543.4" width="11.2" height="47.8" fill="#4dc0c0" stroke="#fff" stroke-width=".8"/><rect x="953.6" y="543.4" width="11.2" height="47.8" fill="#4dc0c0" stroke="#fff" stroke-width=".8"/><rect x="967.9" y="541.5" width="11.2" height="49.7" fill="#f1f1f2" stroke="#fff" stroke-width=".8"/><path d="M781 541.5H980" stroke="#3a3a40" stroke-width="1" stroke-dasharray="6 6" fill="none"/><path d="M980.5 516V591.5" stroke="#e2e2ec" stroke-width="1"/>
<path d="M1080 566.5H1342" stroke="#e2e2ec" stroke-width="1"/><rect x="1272" y="558.5" width="30" height="7.5" fill="#f1f1f2"/><path d="M1302.5 541V566" stroke="#55555c" stroke-width="1" stroke-dasharray="1 2.2"/>
<path d="M1424 516.5H1634M1424 591.5H1634M1626.5 516.5V591.5" stroke="#e2e2ec" stroke-width="1" fill="none"/><rect x="1425.6" y="565.2" width="11" height="25.8" fill="#4cbfbf" stroke="#fff" stroke-width=".6"/><rect x="1440.1" y="566.8" width="11" height="24.2" fill="#4cbfbf" stroke="#fff" stroke-width=".6"/><rect x="1454.6" y="564.7" width="11" height="26.3" fill="#4cbfbf" stroke="#fff" stroke-width=".6"/><rect x="1469.0" y="566.0" width="11" height="25.0" fill="#4cbfbf" stroke="#fff" stroke-width=".6"/><rect x="1483.5" y="548.9" width="11" height="42.1" fill="#4cbfbf" stroke="#fff" stroke-width=".6"/><rect x="1498.0" y="566.6" width="11" height="24.4" fill="#4cbfbf" stroke="#fff" stroke-width=".6"/><rect x="1512.5" y="565.7" width="11" height="25.3" fill="#4cbfbf" stroke="#fff" stroke-width=".6"/><rect x="1527.0" y="563.6" width="11" height="27.4" fill="#4cbfbf" stroke="#fff" stroke-width=".6"/><rect x="1541.4" y="556.8" width="11" height="34.2" fill="#4cbfbf" stroke="#fff" stroke-width=".6"/><rect x="1555.9" y="567.1" width="11" height="23.9" fill="#4cbfbf" stroke="#fff" stroke-width=".6"/><rect x="1570.4" y="564.9" width="11" height="26.1" fill="#4cbfbf" stroke="#fff" stroke-width=".6"/><rect x="1584.9" y="565.2" width="11" height="25.8" fill="#4cbfbf" stroke="#fff" stroke-width=".6"/><rect x="1599.4" y="566.0" width="11" height="25.0" fill="#4cbfbf" stroke="#fff" stroke-width=".6"/><rect x="1613.8" y="566.8" width="11" height="24.2" fill="#4cbfbf" stroke="#fff" stroke-width=".6"/>
<g transform="translate(711 660.8)"><g transform="rotate(0)"><path d="M-9.8 -10C-5.2 -11.1 0 -9.4 4.5 -4.4L0 0Z" fill="#e43921"/><path d="M4.5 -4.4L0 0L1.9 -6.5C2.9 -5.9 3.8 -5.2 4.5 -4.4Z" fill="#ff6a4b"/></g><g transform="rotate(90)"><path d="M-9.8 -10C-5.2 -11.1 0 -9.4 4.5 -4.4L0 0Z" fill="#2dc3d3"/><path d="M4.5 -4.4L0 0L1.9 -6.5C2.9 -5.9 3.8 -5.2 4.5 -4.4Z" fill="#2de4ef"/></g><g transform="rotate(180)"><path d="M-9.8 -10C-5.2 -11.1 0 -9.4 4.5 -4.4L0 0Z" fill="#1ea94a"/><path d="M4.5 -4.4L0 0L1.9 -6.5C2.9 -5.9 3.8 -5.2 4.5 -4.4Z" fill="#21d65b"/></g><g transform="rotate(270)"><path d="M-9.8 -10C-5.2 -11.1 0 -9.4 4.5 -4.4L0 0Z" fill="#2277e6"/><path d="M4.5 -4.4L0 0L1.9 -6.5C2.9 -5.9 3.8 -5.2 4.5 -4.4Z" fill="#34b0f6"/></g></g>
<g transform="translate(624.6 660.4) scale(.62)" stroke="#27a3f9" stroke-width="1.45" stroke-linejoin="round"><g transform="rotate(0)"><path d="M-10 -10C-5.2 -11.2 0 -9.4 4.5 -4.4L0 0Z" fill="#fff"/><path d="M4.5 -4.4L0 0L-.5 -.5C.4 -3 .6 -5.6 .8 -8.2C2.2 -7.2 3.4 -5.8 4.5 -4.4Z" fill="#27a3f9"/></g><g transform="rotate(90)"><path d="M-10 -10C-5.2 -11.2 0 -9.4 4.5 -4.4L0 0Z" fill="#fff"/><path d="M4.5 -4.4L0 0L-.5 -.5C.4 -3 .6 -5.6 .8 -8.2C2.2 -7.2 3.4 -5.8 4.5 -4.4Z" fill="#27a3f9"/></g><g transform="rotate(180)"><path d="M-10 -10C-5.2 -11.2 0 -9.4 4.5 -4.4L0 0Z" fill="#fff"/><path d="M4.5 -4.4L0 0L-.5 -.5C.4 -3 .6 -5.6 .8 -8.2C2.2 -7.2 3.4 -5.8 4.5 -4.4Z" fill="#27a3f9"/></g><g transform="rotate(270)"><path d="M-10 -10C-5.2 -11.2 0 -9.4 4.5 -4.4L0 0Z" fill="#fff"/><path d="M4.5 -4.4L0 0L-.5 -.5C.4 -3 .6 -5.6 .8 -8.2C2.2 -7.2 3.4 -5.8 4.5 -4.4Z" fill="#27a3f9"/></g></g>
<rect x="782.4" y="650.4" width="11.2" height="47.8" fill="#4dc0c0" stroke="#fff" stroke-width=".8"/><rect x="796.7" y="623.8" width="11.2" height="74.4" fill="#fb6485" stroke="#fff" stroke-width=".8"/><rect x="810.9" y="650.4" width="11.2" height="47.8" fill="#4dc0c0" stroke="#fff" stroke-width=".8"/><rect x="825.2" y="623.8" width="11.2" height="74.4" fill="#fb6485" stroke="#fff" stroke-width=".8"/><rect x="839.5" y="650.4" width="11.2" height="47.8" fill="#4dc0c0" stroke="#fff" stroke-width=".8"/><rect x="853.8" y="650.4" width="11.2" height="47.8" fill="#4dc0c0" stroke="#fff" stroke-width=".8"/><rect x="868.0" y="650.4" width="11.2" height="47.8" fill="#4dc0c0" stroke="#fff" stroke-width=".8"/><rect x="882.3" y="650.4" width="11.2" height="47.8" fill="#4dc0c0" stroke="#fff" stroke-width=".8"/><rect x="896.6" y="623.8" width="11.2" height="74.4" fill="#fb6485" stroke="#fff" stroke-width=".8"/><rect x="910.8" y="650.4" width="11.2" height="47.8" fill="#4dc0c0" stroke="#fff" stroke-width=".8"/><rect x="925.1" y="623.8" width="11.2" height="74.4" fill="#fb6485" stroke="#fff" stroke-width=".8"/><rect x="939.4" y="650.4" width="11.2" height="47.8" fill="#4dc0c0" stroke="#fff" stroke-width=".8"/><rect x="953.6" y="650.4" width="11.2" height="47.8" fill="#4dc0c0" stroke="#fff" stroke-width=".8"/><rect x="967.9" y="648.5" width="11.2" height="49.7" fill="#f1f1f2" stroke="#fff" stroke-width=".8"/><path d="M781 648.5H980" stroke="#3a3a40" stroke-width="1" stroke-dasharray="6 6" fill="none"/><path d="M980.5 623V698.5" stroke="#e2e2ec" stroke-width="1"/>
<path d="M1080 673.5H1342" stroke="#e2e2ec" stroke-width="1"/><rect x="1272" y="665.5" width="30" height="7.5" fill="#f1f1f2"/><path d="M1302.5 648V673" stroke="#55555c" stroke-width="1" stroke-dasharray="1 2.2"/>
<path d="M1424 623.5H1634M1424 698.5H1634M1626.5 623.5V698.5" stroke="#e2e2ec" stroke-width="1" fill="none"/><rect x="1425.6" y="674.0" width="11" height="24.0" fill="#4cbfbf" stroke="#fff" stroke-width=".6"/><rect x="1440.1" y="674.2" width="11" height="23.8" fill="#4cbfbf" stroke="#fff" stroke-width=".6"/><rect x="1454.6" y="670.6" width="11" height="27.4" fill="#4cbfbf" stroke="#fff" stroke-width=".6"/><rect x="1469.0" y="674.7" width="11" height="23.3" fill="#4cbfbf" stroke="#fff" stroke-width=".6"/><rect x="1483.5" y="673.8" width="11" height="24.2" fill="#4cbfbf" stroke="#fff" stroke-width=".6"/><rect x="1498.0" y="674.2" width="11" height="23.8" fill="#4cbfbf" stroke="#fff" stroke-width=".6"/><rect x="1512.5" y="672.4" width="11" height="25.6" fill="#4cbfbf" stroke="#fff" stroke-width=".6"/><rect x="1527.0" y="672.9" width="11" height="25.1" fill="#4cbfbf" stroke="#fff" stroke-width=".6"/><rect x="1541.4" y="672.2" width="11" height="25.8" fill="#4cbfbf" stroke="#fff" stroke-width=".6"/><rect x="1555.9" y="674.2" width="11" height="23.8" fill="#4cbfbf" stroke="#fff" stroke-width=".6"/><rect x="1570.4" y="674.2" width="11" height="23.8" fill="#4cbfbf" stroke="#fff" stroke-width=".6"/><rect x="1584.9" y="666.1" width="11" height="31.9" fill="#4cbfbf" stroke="#fff" stroke-width=".6"/><rect x="1599.4" y="670.2" width="11" height="27.8" fill="#4cbfbf" stroke="#fff" stroke-width=".6"/><rect x="1613.8" y="674.2" width="11" height="23.8" fill="#4cbfbf" stroke="#fff" stroke-width=".6"/>
<g transform="translate(711 767.8)"><g transform="rotate(0)"><path d="M-9.8 -10C-5.2 -11.1 0 -9.4 4.5 -4.4L0 0Z" fill="#e43921"/><path d="M4.5 -4.4L0 0L1.9 -6.5C2.9 -5.9 3.8 -5.2 4.5 -4.4Z" fill="#ff6a4b"/></g><g transform="rotate(90)"><path d="M-9.8 -10C-5.2 -11.1 0 -9.4 4.5 -4.4L0 0Z" fill="#2dc3d3"/><path d="M4.5 -4.4L0 0L1.9 -6.5C2.9 -5.9 3.8 -5.2 4.5 -4.4Z" fill="#2de4ef"/></g><g transform="rotate(180)"><path d="M-9.8 -10C-5.2 -11.1 0 -9.4 4.5 -4.4L0 0Z" fill="#1ea94a"/><path d="M4.5 -4.4L0 0L1.9 -6.5C2.9 -5.9 3.8 -5.2 4.5 -4.4Z" fill="#21d65b"/></g><g transform="rotate(270)"><path d="M-9.8 -10C-5.2 -11.1 0 -9.4 4.5 -4.4L0 0Z" fill="#2277e6"/><path d="M4.5 -4.4L0 0L1.9 -6.5C2.9 -5.9 3.8 -5.2 4.5 -4.4Z" fill="#34b0f6"/></g></g>
<g transform="translate(531.6 767.4) scale(.62)" stroke="#27a3f9" stroke-width="1.45" stroke-linejoin="round"><g transform="rotate(0)"><path d="M-10 -10C-5.2 -11.2 0 -9.4 4.5 -4.4L0 0Z" fill="#fff"/><path d="M4.5 -4.4L0 0L-.5 -.5C.4 -3 .6 -5.6 .8 -8.2C2.2 -7.2 3.4 -5.8 4.5 -4.4Z" fill="#27a3f9"/></g><g transform="rotate(90)"><path d="M-10 -10C-5.2 -11.2 0 -9.4 4.5 -4.4L0 0Z" fill="#fff"/><path d="M4.5 -4.4L0 0L-.5 -.5C.4 -3 .6 -5.6 .8 -8.2C2.2 -7.2 3.4 -5.8 4.5 -4.4Z" fill="#27a3f9"/></g><g transform="rotate(180)"><path d="M-10 -10C-5.2 -11.2 0 -9.4 4.5 -4.4L0 0Z" fill="#fff"/><path d="M4.5 -4.4L0 0L-.5 -.5C.4 -3 .6 -5.6 .8 -8.2C2.2 -7.2 3.4 -5.8 4.5 -4.4Z" fill="#27a3f9"/></g><g transform="rotate(270)"><path d="M-10 -10C-5.2 -11.2 0 -9.4 4.5 -4.4L0 0Z" fill="#fff"/><path d="M4.5 -4.4L0 0L-.5 -.5C.4 -3 .6 -5.6 .8 -8.2C2.2 -7.2 3.4 -5.8 4.5 -4.4Z" fill="#27a3f9"/></g></g>
<rect x="782.4" y="757.4" width="11.2" height="47.8" fill="#4dc0c0" stroke="#fff" stroke-width=".8"/><rect x="796.7" y="730.8" width="11.2" height="74.4" fill="#fb6485" stroke="#fff" stroke-width=".8"/><rect x="810.9" y="757.4" width="11.2" height="47.8" fill="#4dc0c0" stroke="#fff" stroke-width=".8"/><rect x="825.2" y="730.8" width="11.2" height="74.4" fill="#fb6485" stroke="#fff" stroke-width=".8"/><rect x="839.5" y="757.4" width="11.2" height="47.8" fill="#4dc0c0" stroke="#fff" stroke-width=".8"/><rect x="853.8" y="757.4" width="11.2" height="47.8" fill="#4dc0c0" stroke="#fff" stroke-width=".8"/><rect x="868.0" y="757.4" width="11.2" height="47.8" fill="#4dc0c0" stroke="#fff" stroke-width=".8"/><rect x="882.3" y="757.4" width="11.2" height="47.8" fill="#4dc0c0" stroke="#fff" stroke-width=".8"/><rect x="896.6" y="730.8" width="11.2" height="74.4" fill="#fb6485" stroke="#fff" stroke-width=".8"/><rect x="910.8" y="757.4" width="11.2" height="47.8" fill="#4dc0c0" stroke="#fff" stroke-width=".8"/><rect x="925.1" y="730.8" width="11.2" height="74.4" fill="#fb6485" stroke="#fff" stroke-width=".8"/><rect x="939.4" y="757.4" width="11.2" height="47.8" fill="#4dc0c0" stroke="#fff" stroke-width=".8"/><rect x="953.6" y="757.4" width="11.2" height="47.8" fill="#4dc0c0" stroke="#fff" stroke-width=".8"/><rect x="967.9" y="755.5" width="11.2" height="49.7" fill="#f1f1f2" stroke="#fff" stroke-width=".8"/><path d="M781 755.5H980" stroke="#3a3a40" stroke-width="1" stroke-dasharray="6 6" fill="none"/><path d="M980.5 730V805.5" stroke="#e2e2ec" stroke-width="1"/>
<path d="M1080 780.5H1342" stroke="#e2e2ec" stroke-width="1"/><rect x="1272" y="772.5" width="30" height="7.5" fill="#f1f1f2"/><path d="M1302.5 755V780" stroke="#55555c" stroke-width="1" stroke-dasharray="1 2.2"/>
<path d="M1424 730.5H1634M1424 805.5H1634M1626.5 730.5V805.5" stroke="#e2e2ec" stroke-width="1" fill="none"/><rect x="1425.6" y="779.9" width="11" height="25.1" fill="#4cbfbf" stroke="#fff" stroke-width=".6"/><rect x="1440.1" y="782.6" width="11" height="22.4" fill="#4cbfbf" stroke="#fff" stroke-width=".6"/><rect x="1454.6" y="781.0" width="11" height="24.0" fill="#4cbfbf" stroke="#fff" stroke-width=".6"/><rect x="1469.0" y="780.8" width="11" height="24.2" fill="#4cbfbf" stroke="#fff" stroke-width=".6"/><rect x="1483.5" y="780.3" width="11" height="24.7" fill="#4cbfbf" stroke="#fff" stroke-width=".6"/><rect x="1498.0" y="781.2" width="11" height="23.8" fill="#4cbfbf" stroke="#fff" stroke-width=".6"/><rect x="1512.5" y="780.1" width="11" height="24.9" fill="#4cbfbf" stroke="#fff" stroke-width=".6"/><rect x="1527.0" y="778.3" width="11" height="26.7" fill="#4cbfbf" stroke="#fff" stroke-width=".6"/><rect x="1541.4" y="779.6" width="11" height="25.4" fill="#4cbfbf" stroke="#fff" stroke-width=".6"/><rect x="1555.9" y="780.8" width="11" height="24.2" fill="#4cbfbf" stroke="#fff" stroke-width=".6"/><rect x="1570.4" y="781.4" width="11" height="23.6" fill="#4cbfbf" stroke="#fff" stroke-width=".6"/><rect x="1584.9" y="775.2" width="11" height="29.8" fill="#4cbfbf" stroke="#fff" stroke-width=".6"/><rect x="1599.4" y="782.3" width="11" height="22.7" fill="#4cbfbf" stroke="#fff" stroke-width=".6"/><rect x="1613.8" y="781.2" width="11" height="23.8" fill="#4cbfbf" stroke="#fff" stroke-width=".6"/>
</svg>
<div class="a lnk" id="nm0" style="left:298.2px;top:549px;font-size:11.5px;letter-spacing:0.33px;">prepare_compliance_report_ny.transform</div>
<div class="a" id="sl0" style="left:782.9px;top:529px;font-size:9px;color:#66666e;">SLA</div>
<div class="a ax" id="ld0" style="left:991.9px;top:538px;font-size:8px;">1d</div>
<div class="a ax" id="lm0" style="left:991.9px;top:588px;font-size:8px;">0m</div>
<div class="a ax" id="ca0" style="left:1063.8px;top:578px;font-size:9.3px;">9:00 AM</div>
<div class="a ax" id="cp0" style="left:1324.5px;top:578px;font-size:9.3px;">7:00 PM</div>
<div class="a ax" id="d20" style="left:1637.6px;top:513px;font-size:8px;">2s</div>
<div class="a ax" id="d00" style="left:1637.6px;top:588px;font-size:8px;">0s</div>
<div class="a val" id="ls0" style="left:1704.2px;top:549px;font-size:11.5px;letter-spacing:0.44px;">Feb 13, 2025 1:02 PM UTC</div>
<div class="a lnk" id="nm1" style="left:298.2px;top:656px;font-size:11.5px;letter-spacing:0.26px;">snowflake_to_salesforce.send_report_to_nyc_compliance</div>
<div class="a" id="sl1" style="left:782.9px;top:636px;font-size:9px;color:#66666e;">SLA</div>
<div class="a ax" id="ld1" style="left:991.9px;top:645px;font-size:8px;">1d</div>
<div class="a ax" id="lm1" style="left:991.9px;top:695px;font-size:8px;">0m</div>
<div class="a ax" id="ca1" style="left:1063.8px;top:685px;font-size:9.3px;">9:00 AM</div>
<div class="a ax" id="cp1" style="left:1324.5px;top:685px;font-size:9.3px;">7:00 PM</div>
<div class="a ax" id="d21" style="left:1637.6px;top:620px;font-size:8px;">2s</div>
<div class="a ax" id="d01" style="left:1637.6px;top:695px;font-size:8px;">0s</div>
<div class="a val" id="ls1" style="left:1704.2px;top:656px;font-size:11.5px;letter-spacing:0.44px;">Feb 13, 2025 1:02 PM UTC</div>
<div class="a lnk" id="nm2" style="left:298.2px;top:763px;font-size:11.5px;letter-spacing:0.29px;">snowflake_to_salesforce.transform_data</div>
<div class="a" id="sl2" style="left:782.9px;top:743px;font-size:9px;color:#66666e;">SLA</div>
<div class="a ax" id="ld2" style="left:991.9px;top:752px;font-size:8px;">1d</div>
<div class="a ax" id="lm2" style="left:991.9px;top:802px;font-size:8px;">0m</div>
<div class="a ax" id="ca2" style="left:1063.8px;top:792px;font-size:9.3px;">9:00 AM</div>
<div class="a ax" id="cp2" style="left:1324.5px;top:792px;font-size:9.3px;">7:00 PM</div>
<div class="a ax" id="d22" style="left:1637.6px;top:727px;font-size:8px;">2s</div>
<div class="a ax" id="d02" style="left:1637.6px;top:802px;font-size:8px;">0s</div>
<div class="a val" id="ls2" style="left:1704.2px;top:763px;font-size:11.5px;letter-spacing:0.44px;">Feb 13, 2025 1:02 PM UTC</div>
<div class="a val" id="ft" style="left:282.1px;top:840px;font-size:12px;letter-spacing:0.19px;">1-3 of 3 Assets</div>
<div class="a" style="left:1613px;top:887px;width:300px;height:40px;background:#d7f3e4;border-radius:7px;box-shadow:0 6px 10px -2px rgba(0,0,0,.15),0 2px 4px -1px rgba(0,0,0,.06)"></div>
<svg class="a" style="left:1625px;top:897px" width="20" height="20" viewBox="0 0 20 20"><circle cx="10" cy="10" r="10" fill="#22b25a"/><path d="M5 10.4L8.6 14L15.2 6.6" fill="none" stroke="#fff" stroke-width="1.8"/></svg>
<div class="a b" id="toast" style="left:1657.5px;top:902px;font-size:12.5px;color:#1d1d22;letter-spacing:0.36px;">SLA updated.</div>
<svg class="a" style="left:1893px;top:899px" width="8" height="8" viewBox="0 0 8 8" fill="none" stroke="#1d1d22" stroke-width="1.2"><path d="M.5 .5L7.5 7.5M7.5 .5L.5 7.5"/></svg>
<div id="frame"></div><svg class="a" style="left:1909px;top:923px;z-index:60" width="13" height="13" viewBox="0 0 13 13"><path d="M13 0V13H0C8 13 13 8 13 0Z" fill="#000"/><path d="M12 7V12H7C10 11 11 10 12 7Z" fill="#3c4a54"/></svg><svg class="a" style="left:0;top:923px;z-index:60" width="13" height="13" viewBox="0 0 13 13"><path d="M0 0V13H13C5 13 0 8 0 0Z" fill="#000"/><path d="M1 7V12H6C3 11 2 10 1 7Z" fill="#14242e"/></svg>
</div>
</body></html>
